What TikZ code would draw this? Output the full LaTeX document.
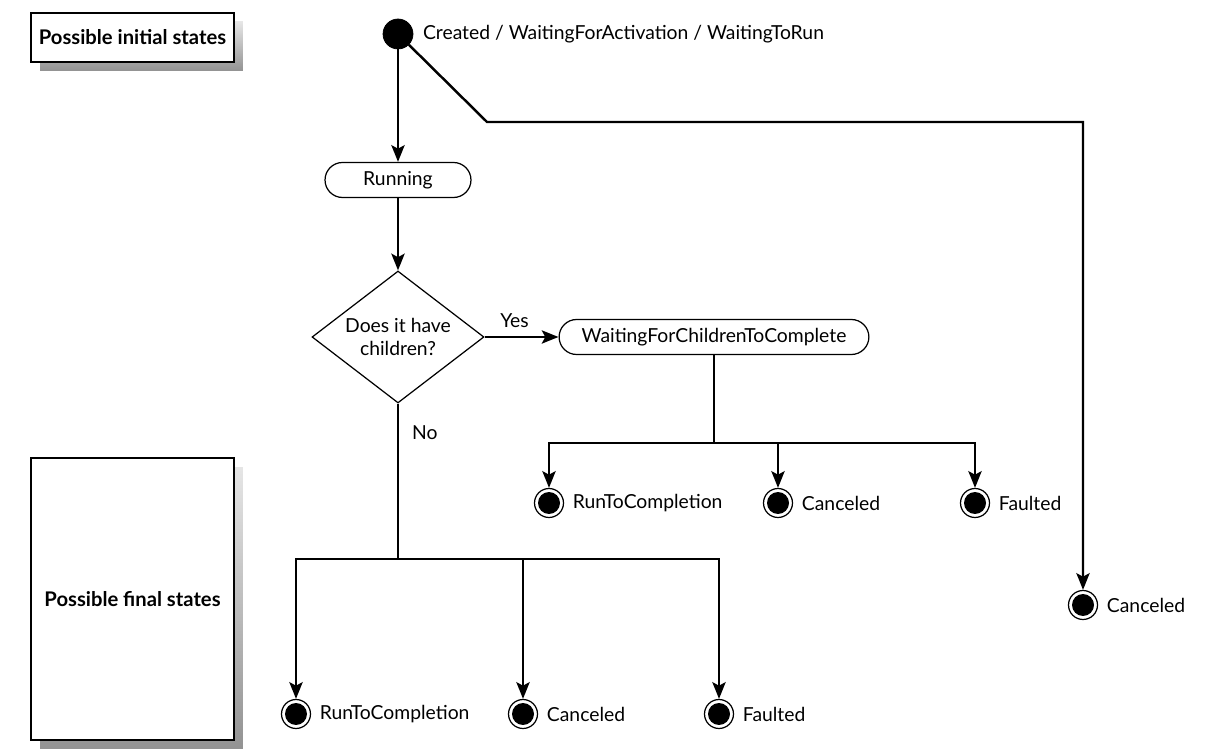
\documentclass[tikz,border=0pt]{standalone}
\usepackage{fontspec}
\setmainfont{Lato}
\usetikzlibrary{arrows.meta,shapes.geometric,shadows}

\tikzset{
  flow/.style={line width=1.4pt},
  arr/.style={flow,-{Stealth[length=9.5pt,width=7.5pt,inset=2pt]}},
  state/.style={draw, line width=0.7pt, rounded corners=0.35cm, minimum height=0.7cm, inner xsep=0.45cm},
  decision/.style={diamond, draw, line width=0.7pt, aspect=1.3, inner sep=0pt, align=center,
    minimum width=3.44cm, minimum height=2.64cm},
  startdot/.style={circle, draw, fill=black, minimum size=0.6cm, inner sep=0pt},
  enddot/.style={circle, draw, line width=0.7pt, minimum size=0.58cm, inner sep=0pt,
    path picture={\fill (path picture bounding box.center) circle (0.22cm);}},
  endlabel/.style={anchor=west, xshift=1.5pt},
  legend/.style={draw, fill=white, line width=0.7pt, font=\fontsize{11.5}{14}\selectfont\bfseries,
    minimum width=4.06cm,
    general shadow={shadow xshift=0.18cm, shadow yshift=-0.18cm, top color=gray!20, bottom color=gray!85}}
}

\begin{document}
\begin{tikzpicture}[x=0.02cm,y=-0.02cm,font=\fontsize{11}{13}\selectfont]
\useasboundingbox (0,0) rectangle (1214,756);
\node[legend, minimum height=0.98cm] (initbox) at (132.5,37.5) {Possible initial states};
\node[legend, minimum height=5.64cm] (finalbox) at (132.5,599) {Possible final states};

\node[startdot] (start) at (398,34) {};
\node[anchor=west, xshift=2pt] (startlbl) at (start.east) {Created / WaitingForActivation / WaitingToRun};
\node[state, minimum width=2.92cm] (run) at (398,180) {Running};
\node[decision] (ask) at (398,337) {Does it have\\children?};
\node[state] (wait) at (714,337) {WaitingForChildrenToComplete};

\node[enddot] (wdone) at (549,503) {};
\node[enddot] (wcancel) at (778,503) {};
\node[enddot] (wfault) at (975,503) {};
\node[endlabel] (wdonelbl) at (wdone.east) {RunToCompletion};
\node[endlabel] (wcancellbl) at (wcancel.east) {Canceled};
\node[endlabel] (wfaultlbl) at (wfault.east) {Faulted};

\node[enddot] (ndone) at (296,714) {};
\node[enddot] (ncancel) at (523,714) {};
\node[enddot] (nfault) at (719,714) {};
\node[endlabel] (ndonelbl) at (ndone.east) {RunToCompletion};
\node[endlabel] (ncancellbl) at (ncancel.east) {Canceled};
\node[endlabel] (nfaultlbl) at (nfault.east) {Faulted};

\node[enddot] (cancel) at (1083,605) {};
\node[endlabel] (cancellbl) at (cancel.east) {Canceled};

\coordinate (bend) at (487,122);
\coordinate (wsplit) at (714,443);
\coordinate (nsplit) at (398,559);

\draw[arr] (start) -- (run);
\draw[arr] (start) -- (bend) -| (cancel);
\draw[arr] (run) -- (ask);
\draw[arr] (ask) -- node[above, xshift=-4pt, yshift=1pt] (yes) {Yes} (wait);
\draw[flow] (wait) -- (wsplit);
\draw[arr] (wsplit) -| (wdone);
\draw[arr] (wsplit) -| (wcancel);
\draw[arr] (wsplit) -| (wfault);
\draw[flow] (ask) -- node[pos=0.19, anchor=west, xshift=4pt] (no) {No} (nsplit);
\draw[arr] (nsplit) -| (ndone);
\draw[arr] (nsplit) -| (ncancel);
\draw[arr] (nsplit) -| (nfault);
\end{tikzpicture}
\end{document}
